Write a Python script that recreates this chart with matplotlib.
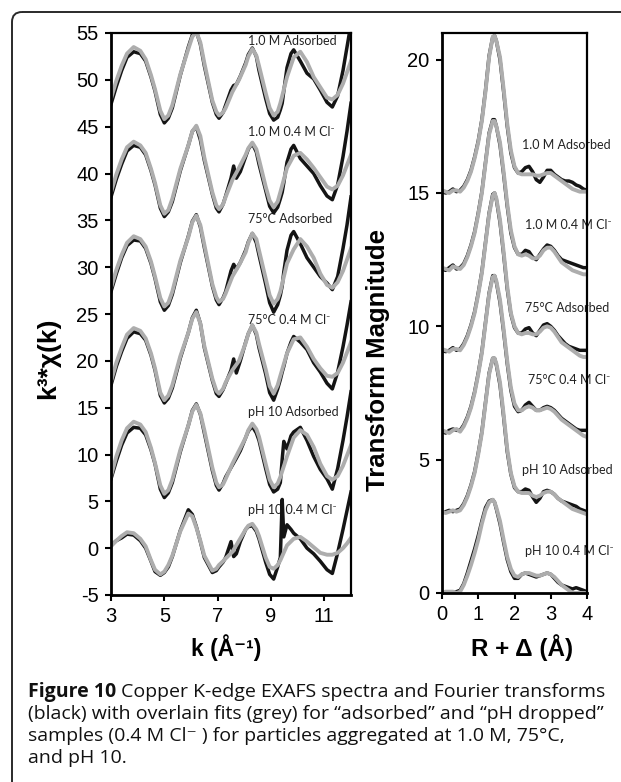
import matplotlib
matplotlib.use('Agg')
import matplotlib.pyplot as plt
from matplotlib.patches import FancyBboxPatch

plt.rcParams['font.family'] = ['Liberation Sans', 'DejaVu Sans']
plt.rcParams['axes.unicode_minus'] = False

# ---------------- data: EXAFS k-space (left panel) ----------------
K_FIT = [3.0, 3.2, 3.4, 3.6, 3.85, 4.1, 4.3, 4.5, 4.65, 4.85, 5.0, 5.15, 5.3, 5.6, 5.9,
         6.05, 6.2, 6.35, 6.5, 6.8, 6.95, 7.05, 7.2, 7.3, 7.55, 7.8, 8.05, 8.15, 8.3, 8.45,
         8.55, 8.8, 8.95, 9.1, 9.25, 9.35, 9.6, 9.85, 10.1, 10.35, 10.6, 10.85, 11.1, 11.3,
         11.5, 11.7, 11.85, 12.0]
K_DATA = [3.0, 3.2, 3.4, 3.6, 3.85, 4.1, 4.3, 4.5, 4.65, 4.85, 5.0, 5.15, 5.3, 5.6, 5.9,
          6.05, 6.2, 6.35, 6.5, 6.8, 6.95, 7.05, 7.2, 7.3, 7.5, 7.6, 7.7, 7.85, 8.05, 8.15,
          8.3, 8.45, 8.55, 8.8, 8.95, 9.1, 9.25, 9.35, 9.42, 9.48, 9.6, 9.75, 9.85, 10.1,
          10.35, 10.6, 10.85, 11.1, 11.3, 11.5, 11.7, 11.85, 12.0]

FIT_1M_ADS = [48.0, 49.9, 51.5, 52.8, 53.5, 53.1, 52.2, 50.5, 49.0, 46.7, 45.8, 46.2, 47.3, 50.6, 53.3,
              54.6, 55.1, 54.0, 51.8, 47.8, 46.6, 46.2, 46.5, 47.0, 48.7, 50.0, 51.6, 52.5, 53.3, 52.6,
              51.5, 48.6, 47.0, 46.2, 46.6, 47.5, 50.3, 52.4, 53.0, 51.9, 50.3, 49.2, 48.1, 47.9,
              48.4, 49.6, 50.8, 52.0]
FIT_1M_CL = [38.0, 39.9, 41.5, 42.8, 43.4, 43.0, 42.2, 40.5, 39.0, 36.6, 35.7, 36.1, 37.3, 40.5, 43.0,
             44.5, 45.1, 44.0, 41.7, 38.0, 36.6, 36.2, 36.7, 37.5, 39.3, 40.6, 42.0, 42.7, 43.3, 42.6,
             41.5, 38.6, 37.1, 36.4, 37.0, 38.0, 40.6, 41.9, 42.2, 41.5, 40.6, 39.6, 38.6, 38.3,
             38.7, 39.8, 40.9, 42.0]
FIT_75_ADS = [27.8, 29.7, 31.3, 32.6, 33.3, 33.0, 32.2, 30.6, 29.0, 26.7, 25.8, 26.2, 27.4, 30.7, 33.2,
              34.8, 35.5, 34.5, 32.4, 28.2, 26.8, 26.3, 26.6, 27.2, 29.0, 30.2, 31.6, 32.6, 33.6, 33.0,
              31.8, 28.8, 27.0, 26.1, 26.6, 27.4, 30.4, 31.9, 33.0, 32.2, 31.0, 29.3, 28.1, 27.8,
              28.4, 29.6, 30.8, 32.0]
FIT_75_CL = [17.8, 19.8, 21.4, 22.8, 23.5, 23.2, 22.4, 20.8, 19.2, 16.6, 15.8, 16.3, 17.4, 20.5, 23.0,
             24.5, 25.2, 24.0, 21.6, 18.1, 16.8, 16.5, 17.0, 17.7, 19.0, 20.0, 21.9, 22.9, 23.8, 23.0,
             21.8, 19.1, 17.3, 16.5, 17.4, 18.4, 20.8, 22.3, 22.5, 21.5, 20.2, 19.2, 18.4, 18.3,
             18.7, 19.8, 20.9, 22.0]
FIT_PH_ADS = [7.7, 9.8, 11.5, 12.8, 13.5, 13.2, 12.4, 10.7, 9.1, 6.7, 5.8, 6.2, 7.3, 10.5, 13.1,
              14.6, 15.3, 14.4, 12.6, 8.6, 7.0, 6.5, 6.8, 7.4, 9.0, 10.4, 11.8, 12.6, 13.3, 12.7,
              11.9, 9.0, 7.3, 6.5, 6.9, 7.6, 9.8, 11.8, 12.6, 12.1, 10.8, 9.0, 7.7, 7.3,
              7.7, 8.8, 9.9, 11.0]
FIT_PH_CL = [0.2, 0.8, 1.3, 1.7, 1.6, 1.0, 0.2, -1.3, -2.3, -2.8, -2.5, -1.8, -0.8, 1.8, 3.7,
             3.4, 2.2, 0.8, -0.8, -2.4, -2.2, -1.8, -1.4, -1.1, -0.4, 0.8, 2.0, 2.4, 2.6, 2.0,
             1.3, -1.0, -2.0, -2.2, -1.8, -1.3, 0.3, 1.0, 1.2, 0.7, 0.1, -0.5, -0.7, -0.7,
             -0.5, 0.0, 0.5, 1.1]

DATA_1M_ADS = [47.4, 49.3, 51.0, 52.4, 53.0, 52.8, 52.0, 50.3, 48.8, 46.3, 45.4, 45.9, 47.0, 50.5, 53.5,
               54.8, 55.2, 53.8, 51.5, 47.6, 46.3, 45.9, 46.5, 47.3, 48.9, 49.4, 49.5, 50.4, 51.8, 52.7,
               53.4, 52.5, 51.0, 48.0, 46.4, 45.7, 46.0, 46.8, 47.5, 48.8, 51.3, 52.8, 53.2, 52.0,
               50.7, 50.1, 48.9, 47.6, 47.1, 48.3, 51.0, 53.5, 56.0]
DATA_1M_CL = [37.5, 39.4, 41.0, 42.4, 43.0, 42.8, 42.0, 40.3, 38.8, 36.3, 35.4, 35.9, 37.0, 40.3, 43.0,
              44.5, 45.0, 43.6, 41.4, 37.8, 36.3, 35.9, 36.7, 37.6, 39.5, 40.8, 39.5, 40.2, 41.8, 42.6,
              43.2, 42.3, 41.0, 38.2, 36.5, 35.8, 36.4, 37.3, 38.0, 39.0, 41.2, 42.6, 43.0, 41.6,
              40.8, 40.0, 38.7, 37.6, 37.2, 38.8, 41.8, 44.5, 47.5]
DATA_75_ADS = [27.4, 29.3, 31.0, 32.3, 32.9, 32.8, 32.0, 30.4, 28.8, 26.3, 25.4, 25.9, 27.1, 30.5, 33.3,
               34.9, 35.6, 34.3, 32.1, 28.0, 26.5, 26.0, 26.7, 27.4, 29.6, 30.3, 29.8, 30.5, 31.8, 32.7,
               33.6, 32.6, 31.3, 28.2, 26.2, 25.2, 26.0, 27.0, 28.0, 29.5, 31.8, 33.4, 33.8, 32.5,
               31.0, 30.0, 29.0, 28.3, 27.6, 29.0, 32.0, 34.5, 37.5]
DATA_75_CL = [17.4, 19.4, 21.0, 22.4, 23.1, 22.9, 22.2, 20.6, 19.0, 16.3, 15.5, 16.0, 17.1, 20.3, 23.0,
              24.6, 25.4, 24.0, 21.4, 17.9, 16.5, 16.2, 16.9, 17.6, 19.0, 20.2, 18.7, 20.0, 22.0, 22.9,
              23.8, 22.8, 21.4, 18.6, 16.6, 15.8, 17.0, 18.0, 18.8, 19.4, 20.8, 22.0, 22.6, 22.0,
              21.2, 19.8, 18.8, 17.6, 17.0, 18.8, 21.5, 23.8, 26.3]
DATA_PH_ADS = [7.4, 9.3, 11.0, 12.3, 12.9, 12.8, 12.1, 10.5, 9.0, 6.3, 5.4, 5.9, 7.0, 10.3, 13.1,
               14.7, 15.4, 14.3, 12.3, 8.3, 6.7, 6.2, 6.9, 7.6, 8.6, 9.1, 9.6, 10.4, 11.8, 12.5,
               13.0, 12.3, 11.5, 8.5, 6.8, 6.0, 6.3, 7.0, 9.5, 11.4, 10.6, 12.0, 12.4, 12.9,
               11.5, 9.8, 8.4, 7.4, 6.3, 8.5, 11.5, 14.0, 16.7]
DATA_PH_CL = [0.3, 0.8, 1.1, 1.5, 1.4, 0.8, 0.0, -1.4, -2.5, -2.9, -2.6, -2.0, -0.9, 1.9, 4.1,
              3.6, 2.3, 0.7, -1.0, -2.6, -2.4, -2.0, -1.5, -1.0, 0.7, -0.9, -0.6, 0.7, 2.0, 2.3,
              2.4, 1.8, 1.0, -1.5, -2.8, -3.3, -2.0, -1.0, 5.2, 1.2, 2.5, 2.0, 1.6, 1.0,
              0.0, -0.6, -1.4, -2.3, -2.7, -0.5, 2.0, 4.0, 6.0]

SAMPLE_LABELS = ['1.0 M Adsorbed', '1.0 M 0.4 M Cl\u207b', '75\u00b0C Adsorbed',
                 '75\u00b0C 0.4 M Cl\u207b', 'pH 10 Adsorbed', 'pH 10 0.4 M Cl\u207b']
LEFT_LABEL_Y = [54.1, 44.4, 35.1, 24.4, 14.5, 4.1]

# ---------------- data: Fourier transforms (right panel) ----------------
R_GRID = [0.0, 0.1, 0.2, 0.3, 0.4, 0.5, 0.6, 0.7, 0.8, 0.9, 1.0, 1.1, 1.2, 1.3, 1.4, 1.45,
          1.5, 1.6, 1.7, 1.8, 1.9, 2.0, 2.1, 2.2, 2.3, 2.4, 2.5, 2.6, 2.7, 2.8, 2.9, 3.0,
          3.1, 3.2, 3.3, 3.4, 3.5, 3.6, 3.7, 3.8, 3.9, 4.0]
FT_OFFSETS = [15, 12, 9, 6, 3, 0]

FT_FIT_1M_ADS = [0.1, 0.05, 0.0, 0.1, 0.1, 0.05, 0.2, 0.45, 0.8, 1.3, 1.9, 2.7, 3.8, 5.1, 5.85, 5.9,
                 5.7, 5.1, 3.9, 2.6, 1.6, 1.0, 0.75, 0.7, 0.7, 0.7, 0.7, 0.65, 0.65, 0.7, 0.75, 0.75,
                 0.65, 0.55, 0.45, 0.35, 0.25, 0.15, 0.1, 0.05, 0.05, 0.05]
FT_FIT_1M_CL = [0.2, 0.15, 0.1, 0.25, 0.2, 0.15, 0.3, 0.6, 1.0, 1.5, 2.2, 3.0, 4.1, 5.2, 5.7, 5.7,
                5.5, 4.9, 3.8, 2.6, 1.6, 1.0, 0.7, 0.65, 0.7, 0.65, 0.55, 0.55, 0.65, 0.85, 0.95, 0.95,
                0.8, 0.6, 0.4, 0.3, 0.2, 0.1, 0.05, 0.0, -0.05, -0.05]
FT_FIT_75_ADS = [0.15, 0.1, 0.05, 0.15, 0.15, 0.1, 0.3, 0.6, 1.0, 1.5, 2.2, 3.0, 4.1, 5.2, 5.9, 6.0,
                 5.8, 5.0, 3.8, 2.5, 1.5, 1.0, 0.75, 0.7, 0.75, 0.75, 0.7, 0.7, 0.8, 0.95, 1.0, 0.95,
                 0.8, 0.6, 0.4, 0.3, 0.2, 0.1, 0.0, -0.1, -0.15, -0.15]
FT_FIT_75_CL = [0.1, 0.05, 0.0, 0.1, 0.15, 0.05, 0.25, 0.55, 0.95, 1.5, 2.2, 3.0, 4.1, 5.2, 5.85, 5.9,
                5.7, 5.0, 3.9, 2.7, 1.7, 1.1, 0.85, 0.85, 0.95, 1.0, 0.95, 0.85, 0.85, 0.9, 0.95, 0.9,
                0.8, 0.65, 0.5, 0.4, 0.3, 0.2, 0.1, 0.0, -0.1, -0.15]
FT_FIT_PH_ADS = [0.05, 0.0, 0.05, 0.1, 0.05, 0.1, 0.3, 0.6, 1.0, 1.5, 2.2, 3.0, 4.1, 5.2, 5.8, 5.8,
                 5.6, 4.9, 3.7, 2.4, 1.5, 1.0, 0.8, 0.75, 0.75, 0.75, 0.65, 0.6, 0.65, 0.75, 0.8, 0.8,
                 0.7, 0.55, 0.45, 0.35, 0.25, 0.15, 0.1, 0.05, 0.0, -0.05]
FT_FIT_PH_CL = [0.0, 0.05, 0.05, 0.05, 0.0, 0.05, 0.3, 0.65, 1.05, 1.5, 2.0, 2.6, 3.1, 3.4, 3.5, 3.4,
                3.2, 2.7, 2.0, 1.35, 0.9, 0.65, 0.6, 0.7, 0.75, 0.75, 0.7, 0.65, 0.65, 0.7, 0.75, 0.7,
                0.6, 0.45, 0.3, 0.2, 0.1, 0.0, 0.0, 0.0, 0.0, 0.0]

FT_DATA_1M_ADS = [0.05, 0.0, 0.05, 0.15, 0.05, 0.1, 0.25, 0.5, 0.85, 1.35, 1.95, 2.75, 3.85, 5.15, 5.85, 5.9,
                  5.7, 5.0, 3.8, 2.5, 1.5, 0.95, 0.75, 0.8, 0.95, 1.0, 0.8, 0.5, 0.4, 0.6, 0.85, 0.85,
                  0.7, 0.6, 0.5, 0.45, 0.45, 0.4, 0.3, 0.25, 0.15, 0.1]
FT_DATA_1M_CL = [0.15, 0.1, 0.2, 0.3, 0.15, 0.2, 0.35, 0.65, 1.05, 1.55, 2.25, 3.05, 4.15, 5.25, 5.75, 5.75,
                 5.5, 4.8, 3.7, 2.5, 1.5, 0.95, 0.7, 0.7, 0.85, 0.8, 0.6, 0.5, 0.7, 0.9, 1.05, 1.0,
                 0.85, 0.65, 0.5, 0.45, 0.4, 0.35, 0.3, 0.25, 0.2, 0.2]
FT_DATA_75_ADS = [0.1, 0.05, 0.1, 0.2, 0.1, 0.15, 0.35, 0.65, 1.05, 1.55, 2.25, 3.05, 4.15, 5.25, 5.95, 6.0,
                  5.75, 4.9, 3.7, 2.4, 1.45, 0.95, 0.75, 0.75, 0.9, 0.95, 0.75, 0.65, 0.85, 1.05, 1.1, 1.0,
                  0.85, 0.65, 0.5, 0.35, 0.25, 0.2, 0.15, 0.1, 0.1, 0.1]
FT_DATA_75_CL = [0.05, 0.0, 0.1, 0.15, 0.1, 0.1, 0.3, 0.6, 1.0, 1.55, 2.25, 3.05, 4.15, 5.25, 5.9, 5.9,
                 5.65, 4.9, 3.8, 2.6, 1.6, 1.0, 0.8, 0.85, 1.05, 1.15, 1.0, 0.85, 0.85, 0.95, 1.0, 0.95,
                 0.85, 0.7, 0.55, 0.45, 0.35, 0.25, 0.15, 0.1, 0.1, 0.1]
FT_DATA_PH_ADS = [0.0, 0.05, 0.1, 0.05, 0.1, 0.15, 0.35, 0.65, 1.05, 1.55, 2.25, 3.05, 4.15, 5.25, 5.8, 5.8,
                  5.55, 4.8, 3.6, 2.3, 1.45, 0.95, 0.8, 0.8, 0.9, 0.85, 0.6, 0.4, 0.55, 0.8, 0.85, 0.8,
                  0.7, 0.55, 0.45, 0.4, 0.35, 0.3, 0.25, 0.15, 0.1, 0.05]
FT_DATA_PH_CL = [0.0, 0.0, 0.05, 0.0, 0.05, 0.1, 0.35, 0.75, 1.2, 1.65, 2.15, 2.7, 3.2, 3.45, 3.5, 3.4,
                 3.15, 2.6, 1.9, 1.25, 0.8, 0.55, 0.55, 0.7, 0.75, 0.7, 0.65, 0.6, 0.65, 0.7, 0.75, 0.7,
                 0.55, 0.4, 0.3, 0.25, 0.2, 0.15, 0.2, 0.15, 0.1, 0.05]

RIGHT_LABEL_Y = [16.8, 13.8, 10.7, 8.0, 4.6, 1.56]
RIGHT_LABEL_X = [2.21, 2.28, 2.28, 2.37, 2.21, 2.28]

CAPTION_BOLD = 'Figure 10'
CAPTION_LINES = [
    'Copper K-edge EXAFS spectra and Fourier transforms',
    '(black) with overlain fits (grey) for \u201cadsorbed\u201d and \u201cpH dropped\u201d',
    'samples (0.4 M Cl\u207b ) for particles aggregated at 1.0 M, 75\u00b0C,',
    'and pH 10.',
]

# ---------------- figure ----------------
W, H = 621, 782
fig = plt.figure(figsize=(W / 100, H / 100), dpi=100)
fig.patch.set_facecolor('white')

bg = fig.add_axes([0, 0, 1, 1], zorder=-5)
bg.set_xlim(0, W)
bg.set_ylim(H, 0)
bg.axis('off')
bg.add_patch(FancyBboxPatch((12, 12), 700, 820, boxstyle='round,pad=0,rounding_size=10',
                            lw=1.4, ec='#2a2a2a', fc='none'))


def fx(px):
    return px / W


def fy(py):
    return 1 - py / H


BLACK = '#141414'
GREY = '#adadad'
LW_DATA = 2.5
LW_FIT = 2.8
LABEL_FONT = ['Lato', 'DejaVu Sans']
LABEL_SIZE = 9

axL = fig.add_axes([fx(111), fy(595), fx(351) - fx(111), fy(33) - fy(595)])
axR = fig.add_axes([fx(442), fy(593), fx(587) - fx(442), fy(33) - fy(593)])

data_left = [DATA_1M_ADS, DATA_1M_CL, DATA_75_ADS, DATA_75_CL, DATA_PH_ADS, DATA_PH_CL]
fit_left = [FIT_1M_ADS, FIT_1M_CL, FIT_75_ADS, FIT_75_CL, FIT_PH_ADS, FIT_PH_CL]
for d, f in zip(data_left, fit_left):
    axL.plot(K_DATA, d, color=BLACK, lw=LW_DATA, solid_joinstyle='round', zorder=2)
    axL.plot(K_FIT, f, color=GREY, lw=LW_FIT, solid_joinstyle='round', zorder=2.1)
for lab, y in zip(SAMPLE_LABELS, LEFT_LABEL_Y):
    axL.text(8.14, y, lab, fontsize=LABEL_SIZE, family=LABEL_FONT, color='#222222',
             ha='left', va='center', zorder=1.5)

axL.set_xlim(3, 12)
axL.set_ylim(-5, 55)
axL.set_xticks([3, 5, 7, 9, 11])
axL.set_yticks(list(range(-5, 56, 5)))

data_right = [FT_DATA_1M_ADS, FT_DATA_1M_CL, FT_DATA_75_ADS, FT_DATA_75_CL, FT_DATA_PH_ADS, FT_DATA_PH_CL]
fit_right = [FT_FIT_1M_ADS, FT_FIT_1M_CL, FT_FIT_75_ADS, FT_FIT_75_CL, FT_FIT_PH_ADS, FT_FIT_PH_CL]
for d, f, off in zip(data_right, fit_right, FT_OFFSETS):
    axR.plot(R_GRID, [v + off for v in d], color=BLACK, lw=LW_DATA, solid_joinstyle='round', zorder=2)
    axR.plot(R_GRID, [v + off for v in f], color=GREY, lw=LW_FIT, solid_joinstyle='round', zorder=2.1)
for lab, x, y in zip(SAMPLE_LABELS, RIGHT_LABEL_X, RIGHT_LABEL_Y):
    axR.text(x, y, lab, fontsize=LABEL_SIZE, family=LABEL_FONT, color='#222222',
             ha='left', va='center', zorder=1.5, clip_on=False)

axR.set_xlim(0, 4)
axR.set_ylim(0, 21)
axR.set_xticks([0, 1, 2, 3, 4])
axR.set_yticks([0, 5, 10, 15, 20])

for ax in (axL, axR):
    for s in ax.spines.values():
        s.set_linewidth(1.6)
        s.set_color('black')
    ax.spines['left'].set_linewidth(2.0)
    ax.spines['bottom'].set_linewidth(2.0)
    ax.tick_params(direction='out', length=4, width=1.5, labelsize=14.5, pad=5,
                   top=False, right=False)
    ax.set_facecolor('none')

fig.text(fx(48), fy(358), 'k\u00b3*\u03c7(k)', rotation=90, ha='center', va='center',
         fontsize=19, fontweight='bold')
fig.text(fx(378), fy(360), 'Transform Magnitude', rotation=90, ha='center', va='center',
         fontsize=18.5, fontweight='bold')
fig.text(fx(226), fy(648), 'k (\u00c5\u207b\u00b9)', ha='center', va='center',
         fontsize=16.5, fontweight='bold')
fig.text(fx(522), fy(648), 'R + \u0394 (\u00c5)', ha='center', va='center',
         fontsize=17.5, fontweight='bold')

# caption
CAP_FONT = ['Open Sans', 'DejaVu Sans']
CAP_SIZE = 14
baselines = [697, 719, 741, 763]
tb = bg.text(28, baselines[0], CAPTION_BOLD, family=CAP_FONT, fontsize=CAP_SIZE,
             fontweight='bold', va='baseline', ha='left', color='#111111')
fig.canvas.draw()
bb = tb.get_window_extent()
bg.text(bb.x1 + 5, baselines[0], CAPTION_LINES[0], family=CAP_FONT, fontsize=CAP_SIZE,
        va='baseline', ha='left', color='#111111')
for line, yb in zip(CAPTION_LINES[1:], baselines[1:]):
    bg.text(28, yb, line, family=CAP_FONT, fontsize=CAP_SIZE, va='baseline', ha='left',
            color='#111111')

fig.savefig('out.png', dpi=100, facecolor='white')
